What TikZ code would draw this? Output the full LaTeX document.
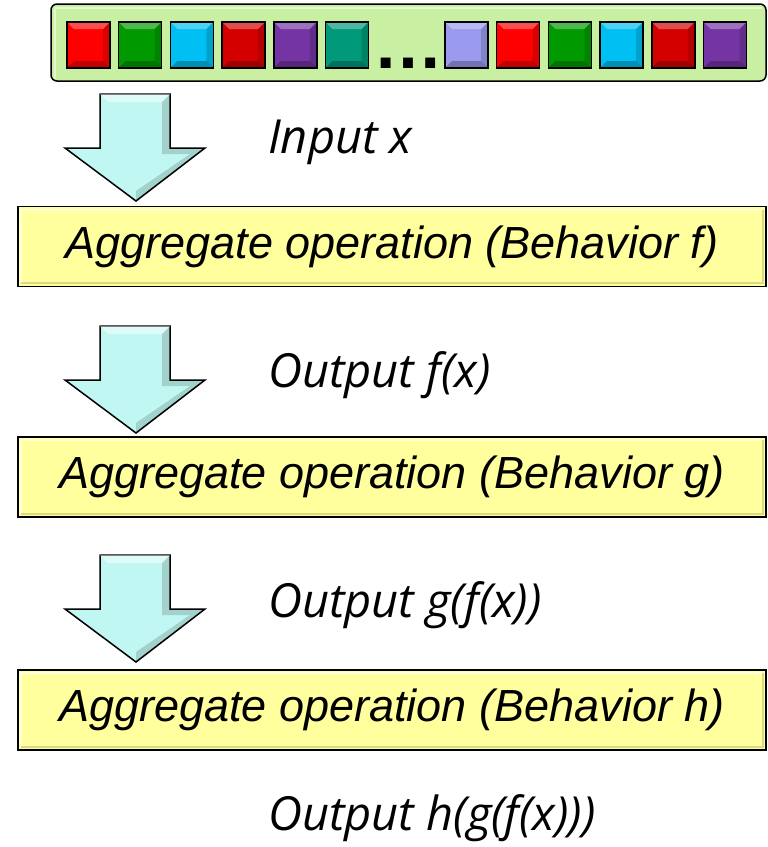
\documentclass[tikz,border=0pt]{standalone}
\usepackage{fontspec}
\setmainfont{Liberation Sans}
\newfontfamily\labelfont{Open Sans}
\definecolor{barfill}{HTML}{C8EFA2}
\definecolor{boxfill}{HTML}{FFFF9E}
\definecolor{arrowfill}{HTML}{C0F7F2}
\definecolor{sqred}{HTML}{FF0000}
\definecolor{sqgreen}{HTML}{009A00}
\definecolor{sqcyan}{HTML}{00BFF2}
\definecolor{sqdark}{HTML}{D40000}
\definecolor{sqpurple}{HTML}{7434A4}
\definecolor{sqteal}{HTML}{00997A}
\definecolor{sqlav}{HTML}{9A9AEE}
\tikzset{
  opbox/.style={draw=black,line width=1.5pt,fill=boxfill,minimum width=748,minimum height=80,inner sep=0pt,
    font=\fontsize{45}{48}\selectfont\itshape},
  flowlabel/.style={anchor=base west,inner sep=0pt,font=\labelfont\fontsize{47}{50}\selectfont\itshape},
  blockarrow/.style={draw=black,line width=1.5pt,fill=arrowfill,line join=miter}
}
\begin{document}
\begin{tikzpicture}[x=1pt,y=-1pt]
\useasboundingbox (0,0) rectangle (768,847);
% input sequence
\draw[line width=1.5pt,fill=barfill,rounded corners=6pt] (51,4) rectangle (766,81);
\draw[white,opacity=.5,line width=2pt] (55,79) -- (55,8) -- (762,8);
\foreach \x/\c in {67/sqred,118.7/sqgreen,170.4/sqcyan,222.1/sqdark,273.8/sqpurple,325.5/sqteal,
                   445/sqlav,496.7/sqred,548.4/sqgreen,600.1/sqcyan,651.8/sqdark,703.5/sqpurple}
{
  \fill[\c] (\x,22) rectangle ++(43,46);
  \fill[white,opacity=.3] (\x,22) -- ++(43,0) -- ++(-7,7) -- ++(-29,0) -- cycle;
  \fill[black,opacity=.25] (\x,68) -- ++(43,0) -- ++(-7,-7) -- ++(-29,0) -- cycle;
  \fill[black,opacity=.15] (\x+43,22) -- ++(0,46) -- ++(-7,-7) -- ++(0,-32) -- cycle;
  \draw[line width=1.5pt] (\x,22) rectangle ++(43,46);
}
\node[anchor=base,inner sep=0pt,font=\bfseries\fontsize{70}{70}\selectfont] (dots) at (408,68) {…};
% operations
\node[opbox] (opf) at (392,246.5) {Aggregate operation (Behavior f)};
\node[opbox] (opg) at (392,477) {Aggregate operation (Behavior g)};
\node[opbox] (oph) at (392,710) {Aggregate operation (Behavior h)};
\foreach \n in {opf,opg,oph}
{
  \draw[white,opacity=.6,line width=2pt] ([shift={(4,-4)}]\n.south west) -- ([shift={(4,4)}]\n.north west)
    -- ([shift={(-4,4)}]\n.north east);
  \draw[black,opacity=.15,line width=2pt] ([shift={(4,-4)}]\n.south west) -- ([shift={(-4,-4)}]\n.south east)
    -- ([shift={(-4,4)}]\n.north east);
}
\foreach \y in {94,326,555}
{
  \draw[blockarrow] (100,\y) -- (170,\y) -- (170,\y+54) -- (205,\y+54) -- (136,\y+107)
    -- (65,\y+54) -- (100,\y+54) -- cycle;
  \fill[black,opacity=.15] (170,\y) -- (170,\y+54) -- (205,\y+54) -- (136,\y+107) -- (136,\y+97)
    -- (190,\y+60) -- (162,\y+60) -- (162,\y+8) -- cycle;
  \fill[white,opacity=.5] (100,\y) -- (170,\y) -- (162,\y+8) -- (108,\y+8) -- cycle;
}
\node[flowlabel] (inx) at (268,153) {Input x};
\node[flowlabel] (outf) at (268,387) {Output f(x)};
\node[flowlabel] (outg) at (268,617) {Output g(f(x))};
\node[flowlabel] (outh) at (268,830) {Output h(g(f(x)))};
\end{tikzpicture}
\end{document}
